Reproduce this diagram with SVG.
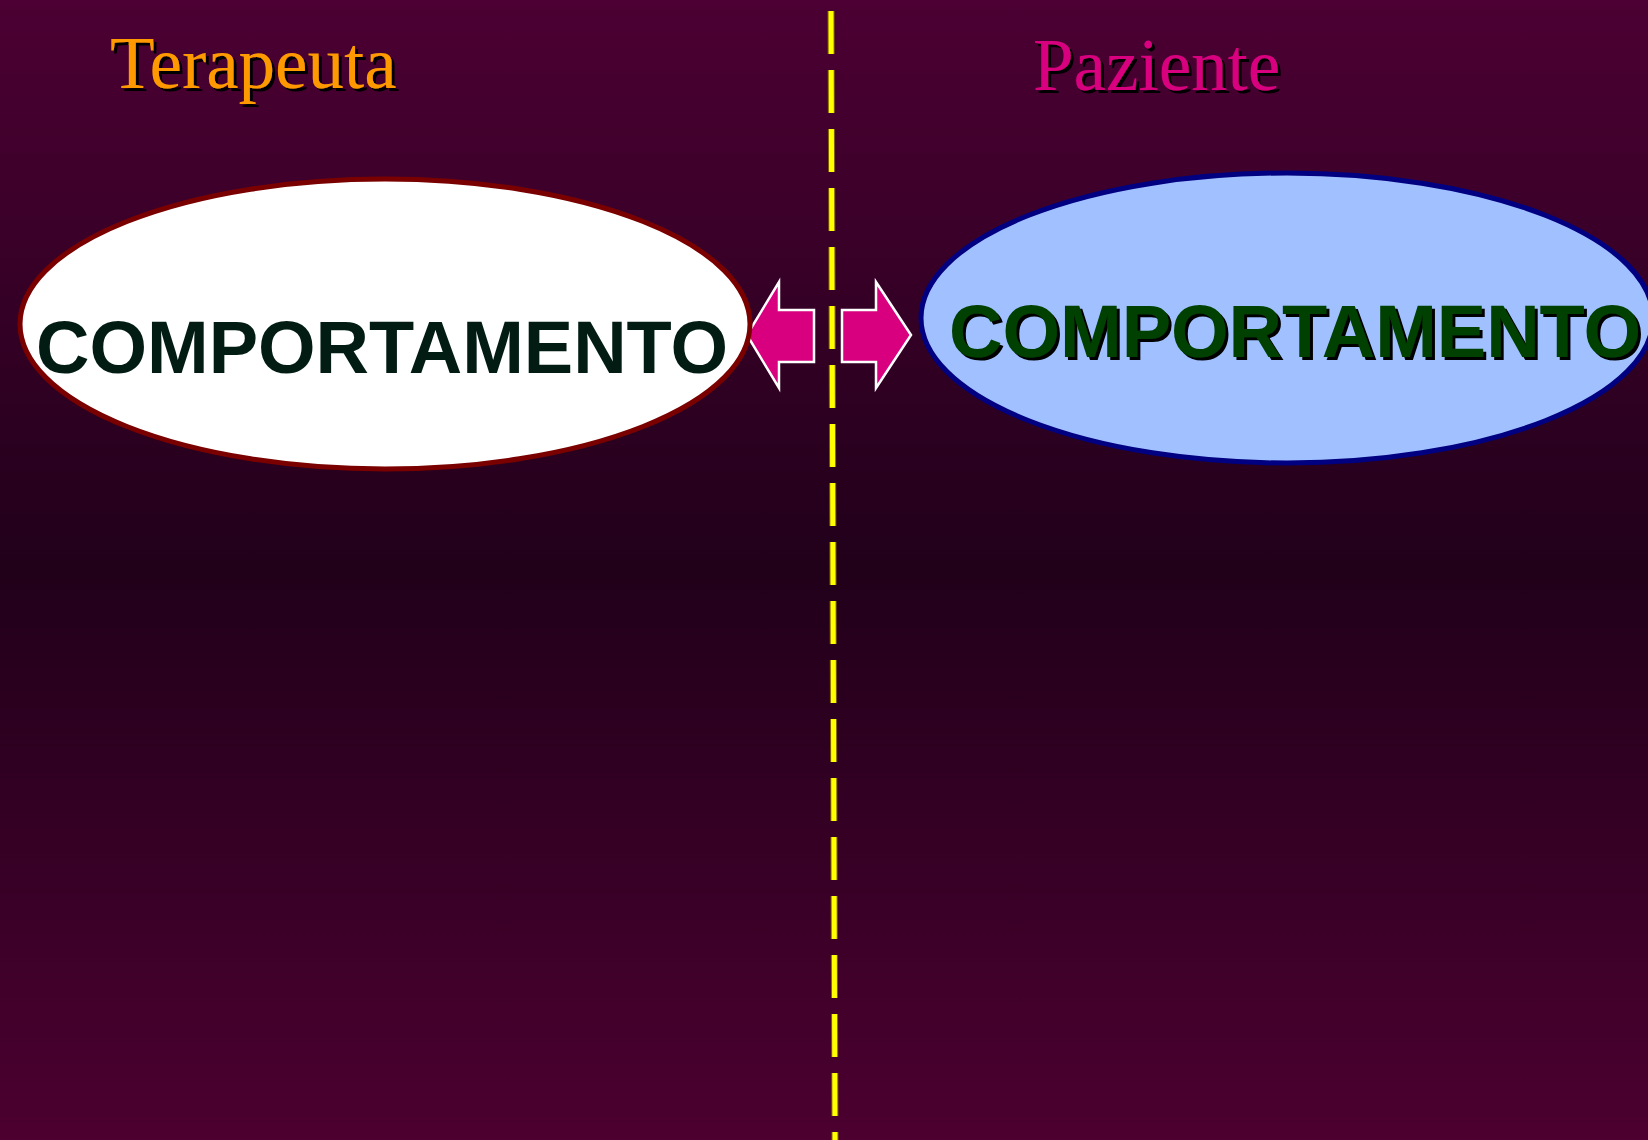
<svg xmlns="http://www.w3.org/2000/svg" width="1648" height="1140" viewBox="0 0 1648 1140">
<defs>
<linearGradient id="bg" x1="0" y1="0" x2="0" y2="1">
<stop offset="0" stop-color="#4c0033"/>
<stop offset="0.5" stop-color="#21001a"/>
<stop offset="1" stop-color="#4c0030"/>
</linearGradient>
<filter id="sh" x="-5%" y="-20%" width="110%" height="140%">
<feOffset in="SourceAlpha" dx="3" dy="3" result="o"/>
<feFlood flood-color="#000000"/>
<feComposite in2="o" operator="in" result="s"/>
<feMerge><feMergeNode in="s"/><feMergeNode in="SourceGraphic"/></feMerge>
</filter>
<style>
.title{font-family:"Liberation Serif","Times New Roman",serif;font-size:73px;filter:url(#sh)}
.big{font-family:"Liberation Sans",Arial,sans-serif;font-weight:bold;font-size:74px}
.arrow{fill:#d9007f;stroke:#ffffff;stroke-width:2.5}
</style>
</defs>
<rect width="1648" height="1140" fill="url(#bg)"/>
<g id="titles">
<text class="title" x="110" y="88" fill="#ff9900">Terapeuta</text>
<text class="title" x="1033" y="90" fill="#d9007f">Paziente</text>
</g>
<g id="connectors">
<line x1="831" y1="11" x2="835" y2="1140" stroke="#806000" stroke-width="7" stroke-dasharray="43 16"/>
<line x1="831" y1="11" x2="835" y2="1140" stroke="#ffff00" stroke-width="5" stroke-dasharray="43 16"/>
<polygon class="arrow" points="747,335 779,282 779,310 814,310 814,362 779,362 779,388"/>
<polygon class="arrow" points="911,335 876,282 876,310 842,310 842,362 876,362 876,388"/>
</g>
<g id="terapeuta-node">
<ellipse cx="385" cy="324" rx="365" ry="145" fill="#ffffff" stroke="#7a0000" stroke-width="5"/>
<text class="big" x="382" y="373" text-anchor="middle" fill="#021c14">COMPORTAMENTO</text>
</g>
<g id="paziente-node">
<ellipse cx="1287" cy="318" rx="366" ry="145" fill="#a0c0ff" stroke="#000080" stroke-width="5"/>
<text class="big" x="1295" y="357" text-anchor="middle" fill="#004000" filter="url(#sh)">COMPORTAMENTO</text>
</g>
</svg>
